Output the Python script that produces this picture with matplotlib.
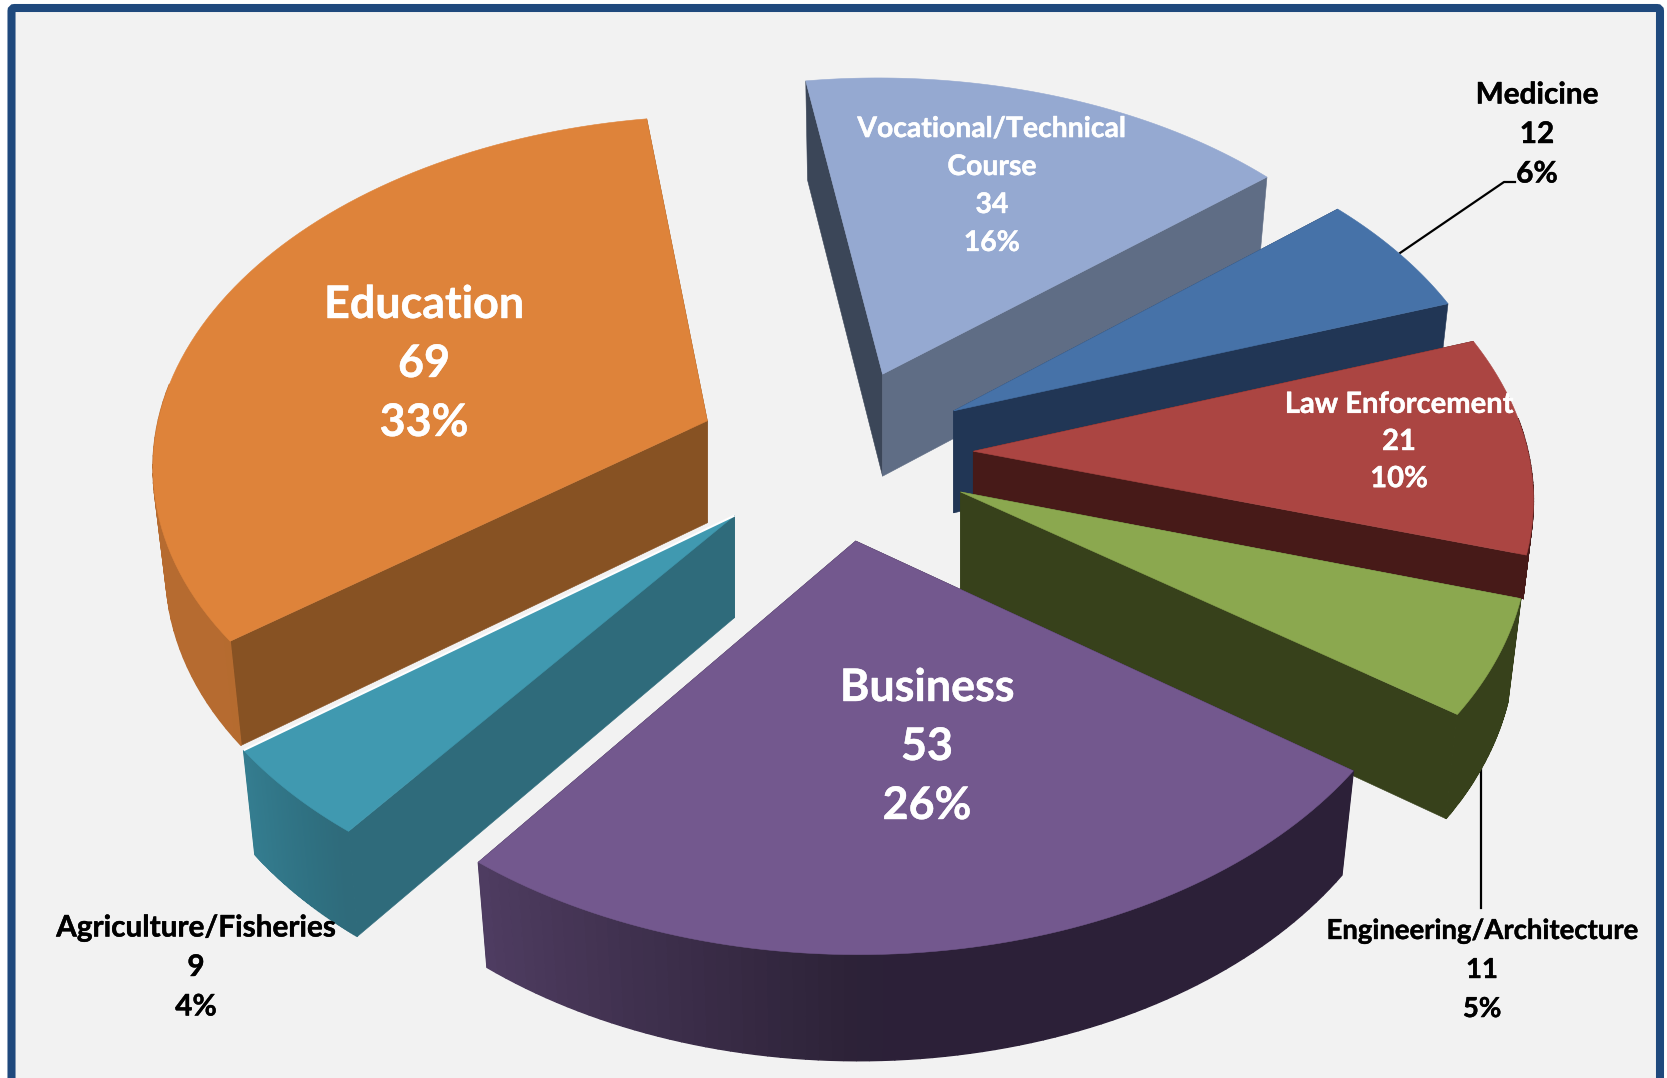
import numpy as np
import matplotlib
matplotlib.use("Agg")
import matplotlib.pyplot as plt
import matplotlib.patheffects as pe
from matplotlib.patches import Polygon, FancyBboxPatch

# data, clockwise from the start angle
categories = ["Vocational/Technical\nCourse", "Medicine", "Law Enforcement",
              "Engineering/Architecture", "Business", "Agriculture/Fisheries", "Education"]
values = [34, 12, 21, 11, 53, 9, 69]
percents = [16, 6, 10, 5, 26, 4, 33]

top_colors = ["#95A9D1", "#4672A8", "#AB4542", "#8BA84F", "#73588E", "#4099B0", "#DE833A"]
side_colors = ["#5F6D85", "#213655", "#471A18", "#37411B", "#2C2038", "#2F6B7B", "#875223"]
back_colors = ["#3B4658", "#213655", "#471A18", "#37411B", "#2C2038", "#2F6B7B", "#875223"]
draw_order = [6, 0, 1, 2, 3, 5, 4]

# pie geometry (pixels)
cx, cy = 834.6, 453
rx, ry = 555, 346
persp = 0.112
explode = 0.25
depth = 102
start_angle = 98.5

def proj(u, v):
    s = 1.0 / (1 + persp * v)
    return cx + rx * u * s, cy - ry * v * s

def rgb(c):
    return np.array(matplotlib.colors.to_rgb(c))

def bottom(ax0, ay0, dx, dy):
    return ax0 + 0.977 * dx, ay0 + dy + depth + 0.01 * dy

def shade(t):
    return min(0.39 + 0.0081 * (-90 - t), 0.82)

fig = plt.figure(figsize=(16.67, 10.78), dpi=100)
ax = fig.add_axes([0, 0, 1, 1])
ax.set_xlim(0, 1667)
ax.set_ylim(1078, 0)
ax.axis("off")
fig.patch.set_facecolor("white")

frame = FancyBboxPatch((11.5, 8), 1648.5, 1080, boxstyle="round,pad=0,rounding_size=3",
                       fc="#F2F2F2", ec="#1F497D", lw=5.8, zorder=0)
ax.add_patch(frame)

# slice boundaries in degrees
total = sum(values)
edges = [start_angle]
for v in values:
    edges.append(edges[-1] - 360.0 * v / total)

def bisect_uv(i):
    b = np.radians((edges[i] + edges[i + 1]) / 2)
    return explode * np.cos(b), explode * np.sin(b)

def apex_of(i):
    return proj(*bisect_uv(i))

def rim_of(i, n=80):
    ts = np.linspace(edges[i], edges[i + 1], n)
    eu, ev = bisect_uv(i)
    tx, ty = proj(eu + np.cos(np.radians(ts)), ev + np.sin(np.radians(ts)))
    return ts, tx, ty

# the law slice side stops where the engineering top starts
eng_x, eng_y = apex_of(3)
_, etx, ety = rim_of(3)
slope = (ety[0] - eng_y) / (etx[0] - eng_x)
law_clip = Polygon([[eng_x, eng_y], [1700, eng_y + slope * (1700 - eng_x)], [1700, -10], [-10, -10], [-10, eng_y]],
                   transform=ax.transData, fill=False)

# leader lines, under the pie
ax.plot([1400, 1504, 1515], [253, 182, 182], color="black", lw=1.6, zorder=0.5)
ax.plot([1481, 1481], [740, 908], color="black", lw=1.6, zorder=0.5)

z = 1
for i in draw_order:
    x0, y0 = apex_of(i)
    ts, tx, ty = rim_of(i)
    bx, by = bottom(x0, y0, tx - x0, ty - y0)
    sx0, sy0 = bottom(x0, y0, 0, 0)
    parts = []
    # radial faces first
    parts.append(ax.add_patch(Polygon([[x0, y0], [tx[0], ty[0]], [bx[0], by[0]], [sx0, sy0]],
                                      fc=back_colors[i], ec=back_colors[i], lw=0.4, zorder=z)))
    parts.append(ax.add_patch(Polygon([[x0, y0], [tx[-1], ty[-1]], [bx[-1], by[-1]], [sx0, sy0]],
                                      fc=side_colors[i], ec=side_colors[i], lw=0.4, zorder=z)))
    # rim in small quads, shaded by angle, front half only
    for k in range(len(ts) - 1):
        if np.sin(np.radians(ts[k])) > 0.1:
            continue
        col = np.maximum(rgb(top_colors[i]) * shade(ts[k]), rgb(side_colors[i]))
        parts.append(ax.add_patch(Polygon([[tx[k], ty[k]], [tx[k + 1], ty[k + 1]], [bx[k + 1], by[k + 1]], [bx[k], by[k]]],
                                          fc=col, ec=col, lw=1.0, zorder=z)))
    if i == 2:
        for p in parts:
            p.set_clip_path(law_clip)
    # top face
    pts = np.column_stack([np.r_[x0, tx], np.r_[y0, ty]])
    ax.add_patch(Polygon(pts, fc=top_colors[i], ec=top_colors[i], lw=0.4, zorder=z))
    if i == 5:
        ax.plot([x0, tx[-1]], [y0, ty[-1]], color="white", lw=1.5, zorder=z, solid_capstyle="butt")
    z += 1

# labels
label_pos = [(992, 186), (1537, 134), (1399, 442), (1482, 970), (927, 747), (196, 967), (424, 364)]
label_size = [20.4, 21.4, 21, 19.8, 32.3, 21.4, 32.3]
label_space = [1.57, 1.5, 1.53, 1.62, 1.5, 1.5, 1.5]
label_color = ["white", "black", "white", "black", "white", "black", "white"]
for i in range(len(categories)):
    txt = "%s\n%d\n%d%%" % (categories[i], values[i], percents[i])
    t = ax.text(label_pos[i][0], label_pos[i][1], txt, ha="center", va="center", multialignment="center",
                fontsize=label_size[i], fontweight="bold", family="Lato", color=label_color[i],
                linespacing=label_space[i], zorder=30)
    t.set_path_effects([pe.withStroke(linewidth=0.3, foreground=label_color[i])])

fig.savefig("out.png", dpi=100)
